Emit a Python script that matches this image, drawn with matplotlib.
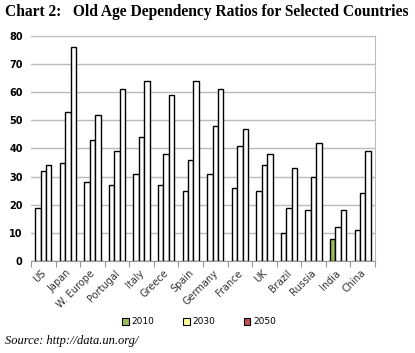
import numpy as np
import matplotlib.pyplot as plt
from matplotlib.patches import Patch

countries = ["US", "Japan", "W. Europe", "Portugal", "Italy", "Greece", "Spain",
             "Germany", "France", "UK", "Brazil", "Russia", "India", "China"]
r2010 = [19, 35, 28, 27, 31, 27, 25, 31, 26, 25, 10, 18, 8, 11]
r2030 = [32, 53, 43, 39, 44, 38, 36, 48, 41, 34, 19, 30, 12, 24]
r2050 = [34, 76, 52, 61, 64, 59, 64, 61, 47, 38, 33, 42, 18, 39]
years = ["2010", "2030", "2050"]
legend_colors = ["#9bbb59", "#ffff99", "#c0504d"]

fig = plt.figure(figsize=(4.15, 3.53), dpi=100)
ax = fig.add_axes([31 / 415, 1 - 261 / 353, 344 / 415, 225 / 353])

x = np.arange(len(countries))
w = 0.22
series = [r2010, r2030, r2050]
for i, vals in enumerate(series):
    faces = ["white"] * len(vals)
    if i == 0:
        faces[countries.index("India")] = legend_colors[0]
    ax.bar(x + (i - 1) * w, vals, w, color=faces, edgecolor="black", linewidth=1.0, zorder=3)

ax.set_xlim(-0.5, len(countries) - 0.5)
ax.set_ylim(0, 80)
ax.set_yticks(range(0, 81, 10))
ax.yaxis.grid(True, color="#bbbbbb", linewidth=1)
ax.set_axisbelow(True)
for s in ["top", "right"]:
    ax.spines[s].set_color("#bbbbbb")
ax.spines["left"].set_visible(False)
ax.spines["bottom"].set_color("#999999")
ax.tick_params(axis="y", length=0, labelsize=7, pad=6)
for lab in ax.get_yticklabels():
    lab.set_fontweight("bold")

ax.set_xticks(np.arange(-0.5, len(countries), 1))
ax.set_xticklabels([])
ax.tick_params(axis="x", length=4, color="#999999")
for i, c in enumerate(countries):
    ax.text(i - 0.1, -2.5, c, rotation=45, ha="right", va="top",
            rotation_mode="anchor", fontsize=7, color="#333333")

handles = [Patch(facecolor=c, edgecolor="black", linewidth=0.8) for c in legend_colors]
fig.legend(handles, years, loc="center", bbox_to_anchor=(0.48, 1 - 322 / 353),
           ncol=3, frameon=False, fontsize=6.5, handlelength=0.7, handleheight=0.7,
           columnspacing=3.2, handletextpad=0.3)

fig.text(5 / 415, 1 - 12 / 353, "Chart 2:   Old Age Dependency Ratios for Selected Countries",
         fontsize=11.2, fontweight="bold", family="Liberation Serif", va="center")
fig.text(5 / 415, 1 - 341 / 353, "Source: http://data.un.org/",
         fontsize=9, style="italic", family="Liberation Serif", va="center")

fig.savefig("out.png", dpi=100)
